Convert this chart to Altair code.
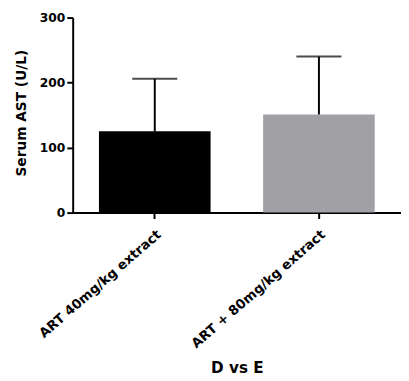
import altair as alt
import pandas as pd

groups = ["ART 40mg/kg extract", "ART + 80mg/kg extract"]
means = [125, 151]
sds = [81, 89]
colors = ["#000000", "#a1a1a5"]

df = pd.DataFrame({"group": groups, "mean": means, "sd": sds, "color": colors})
df["upper"] = df["mean"] + df["sd"]

font = "DejaVu Sans"
x = alt.X("group:N", sort=groups, title="D vs E",
          scale=alt.Scale(paddingInner=0.32, paddingOuter=0.16),
          axis=alt.Axis(labelAngle=-41, labelFontSize=13.5, labelFontWeight="bold",
                        labelColor="#000", titleFontSize=15.5, titleFontWeight="bold",
                        titleColor="#000", titleBaseline="middle", titleY=158,
                        domainColor="#000", labelPadding=9,
                        domainWidth=2, tickColor="#000", tickWidth=2, tickSize=6,
                        labelFont=font, titleFont=font))
y_scale = alt.Scale(domain=[0, 300], nice=False)
y_axis = alt.Axis(values=[0, 100, 200, 300], grid=False, labelFontSize=12.5,
                  labelFontWeight="bold", labelColor="#000", titleFontSize=14,
                  titleFontWeight="bold", titleColor="#000", domainColor="#000",
                  domainWidth=2, tickColor="#000", tickWidth=2, tickSize=6,
                  labelFont=font, titleFont=font, titleX=-52, titleY=97,
                  titleAngle=-90, titleBaseline="middle", titleAlign="center")

base = alt.Chart(df)
bars = base.mark_bar().encode(
    x=x,
    y=alt.Y("mean:Q", title="Serum AST (U/L)", scale=y_scale, axis=y_axis),
    color=alt.Color("color:N", scale=None),
)
rule = base.mark_rule(color="#000", strokeWidth=2).encode(
    x=alt.X("group:N", sort=groups), y="mean:Q", y2="upper:Q")
cap = base.mark_tick(color="#000", thickness=2, size=46, orient="horizontal").encode(
    x=alt.X("group:N", sort=groups), y="upper:Q")

chart = alt.layer(bars, rule, cap).properties(
    width=335, height=199,
    autosize=alt.AutoSizeParams(type="none"),
    padding={"left": 66, "top": 6, "right": 0, "bottom": 166},
).configure_view(stroke=None)

chart.save("out.html", embed_options={"renderer": "svg", "actions": False})
